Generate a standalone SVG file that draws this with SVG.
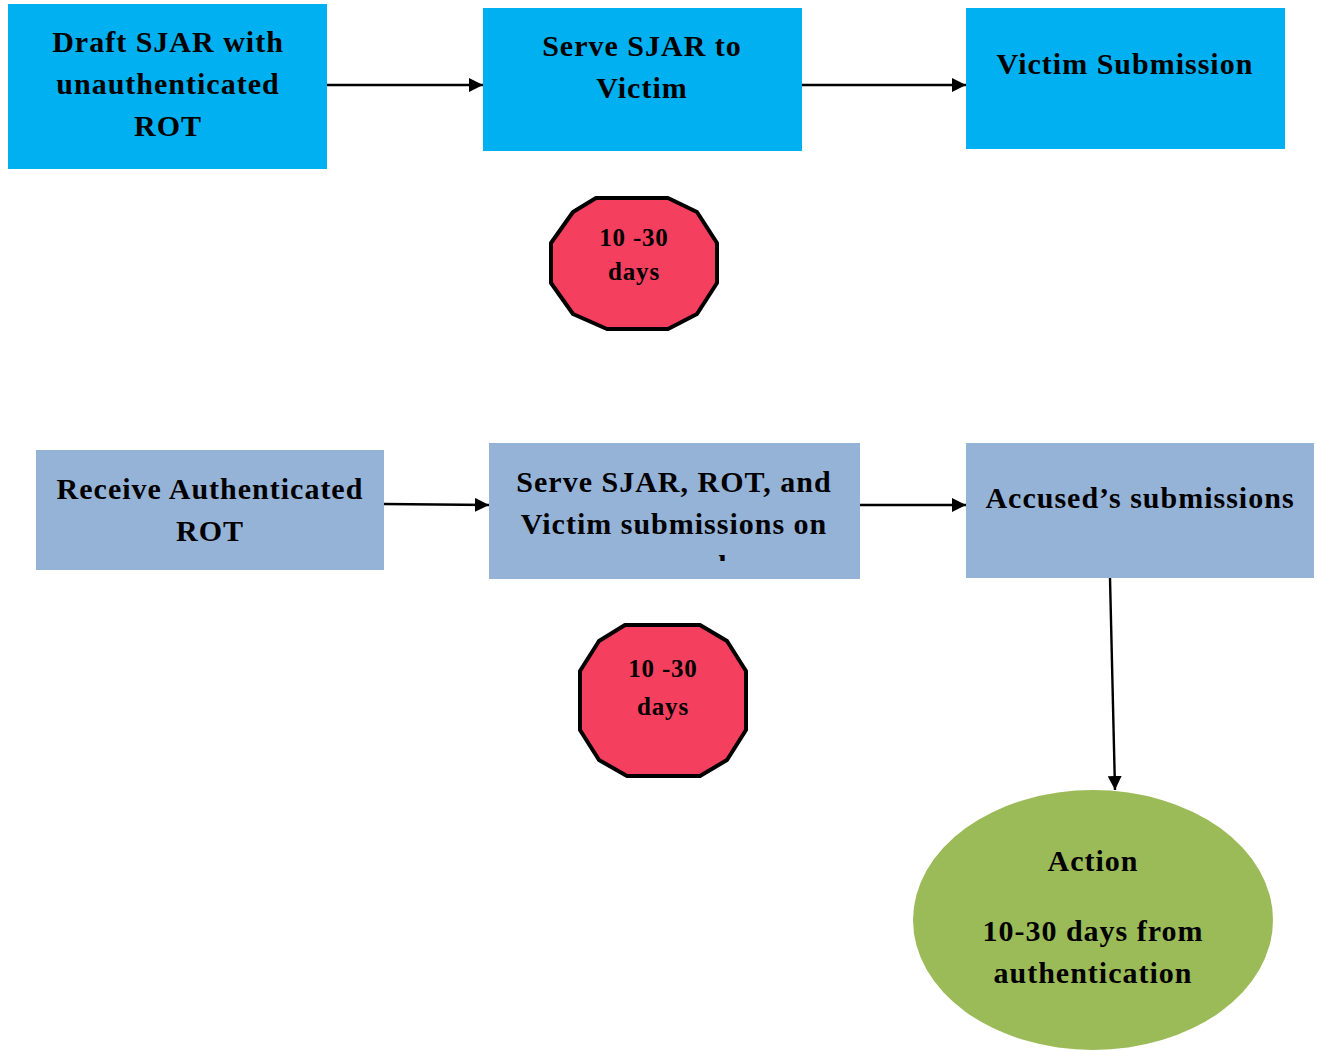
<svg xmlns="http://www.w3.org/2000/svg" width="1317" height="1051" viewBox="0 0 1317 1051">
<style>
text{font-family:"Liberation Serif","DejaVu Serif",serif;font-weight:700;font-size:30px;fill:#000;text-anchor:middle;letter-spacing:1px}
text.s{font-size:25px;letter-spacing:0.8px}
.b1{fill:#00B0F0}
.b2{fill:#95B3D7}
.oct{fill:#F43F5E;stroke:#000;stroke-width:4;stroke-linejoin:round}
.c{stroke:#000;stroke-width:2.4;fill:none;marker-end:url(#ahb)}
</style>
<defs>
<marker id="ahb" viewBox="0 0 10 10" refX="10" refY="5" markerWidth="14" markerHeight="14" markerUnits="userSpaceOnUse" orient="auto">
<path d="M0,0L10,5L0,10z" fill="#000"/>
</marker>
<clipPath id="cp5"><rect x="489" y="443" width="371" height="118"/></clipPath>
</defs>
<rect width="1317" height="1051" fill="#fff"/>
<g id="connectors">
<line class="c" x1="327" y1="85" x2="483" y2="85"/>
<line class="c" x1="802" y1="85" x2="966" y2="85"/>
<line class="c" x1="384" y1="504" x2="489" y2="505"/>
<line class="c" x1="860" y1="505" x2="966" y2="505"/>
<line class="c" x1="1110" y1="578" x2="1115" y2="790"/>
</g>
<g id="n1">
<rect class="b1" x="8" y="4" width="319" height="165"/>
<text x="168" y="52">Draft SJAR with</text>
<text x="168" y="94">unauthenticated</text>
<text x="168" y="136">ROT</text>
</g>
<g id="n2">
<rect class="b1" x="483" y="8" width="319" height="143"/>
<text x="642" y="56">Serve SJAR to</text>
<text x="642" y="98">Victim</text>
</g>
<g id="n3">
<rect class="b1" x="966" y="8" width="319" height="141"/>
<text x="1125" y="74">Victim Submission</text>
</g>
<g id="n4">
<polygon class="oct" points="596,198 668,198 697,212 717,243 717,283 697,314 668,329 607,329 573,314 551,283 551,243 573,212"/>
<text class="s" x="634" y="246">10 -30</text>
<text class="s" x="634" y="280">days</text>
</g>
<g id="n5">
<rect class="b2" x="36" y="450" width="348" height="120"/>
<text x="210" y="499">Receive Authenticated</text>
<text x="210" y="541">ROT</text>
</g>
<g id="n6">
<rect class="b2" x="489" y="443" width="371" height="136"/>
<text x="674" y="492">Serve SJAR, ROT, and</text>
<text x="674" y="534">Victim submissions on</text>
<text x="674" y="576" clip-path="url(#cp5)">accused</text>
</g>
<g id="n7">
<rect class="b2" x="966" y="443" width="348" height="135"/>
<text x="1140" y="508">Accused’s submissions</text>
</g>
<g id="n8">
<polygon class="oct" points="625,625 700,625 727,641 746,671 746,730 727,760 700,776 627,776 599,760 580,730 580,671 599,641"/>
<text class="s" x="663" y="677">10 -30</text>
<text class="s" x="663" y="715">days</text>
</g>
<g id="n9">
<ellipse cx="1093" cy="920" rx="180" ry="130" fill="#9BBB59"/>
<text x="1093" y="871">Action</text>
<text x="1093" y="941">10-30 days from</text>
<text x="1093" y="983">authentication</text>
</g>
</svg>
